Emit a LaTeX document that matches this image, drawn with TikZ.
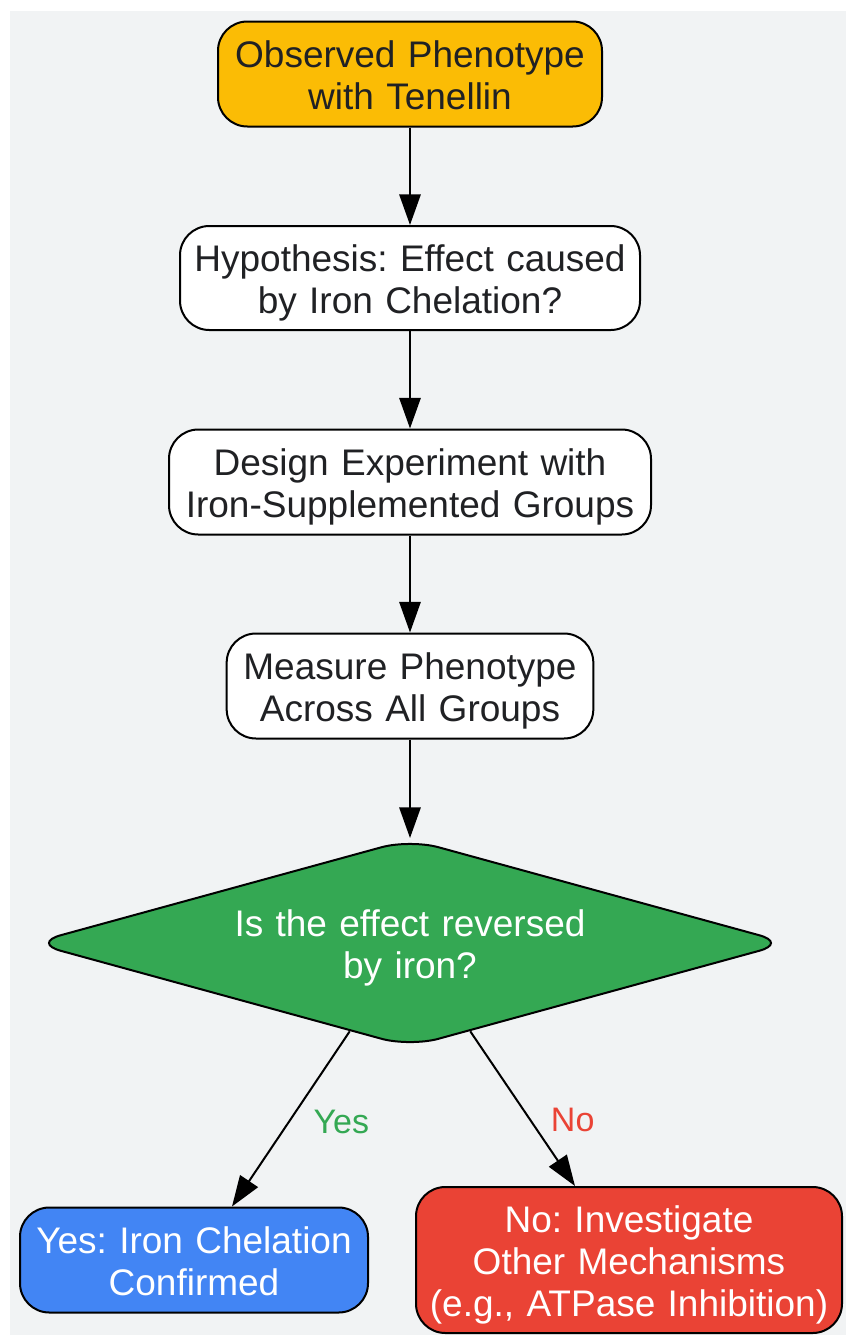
\documentclass[tikz,border=0pt]{standalone}
\usepackage{fontspec}
\setmainfont{Liberation Sans}
\usetikzlibrary{shapes.geometric,arrows.meta,calc}
\definecolor{bgGray}{RGB}{241,243,244}
\definecolor{txtDark}{RGB}{32,33,36}
\definecolor{obsOrange}{RGB}{251,188,5}
\definecolor{decGreen}{RGB}{52,168,83}
\definecolor{yesBlue}{RGB}{66,133,244}
\definecolor{noRed}{RGB}{234,67,53}
\begin{document}
\begin{tikzpicture}[x=0.75pt,y=0.75pt,yscale=-1,xscale=1,
  box/.style={draw=black,line width=1.5pt,rounded corners=22pt,align=center,inner sep=0pt,text=txtDark,font=\fontsize{27.75}{31.3}\selectfont\frenchspacing,
    execute at begin node={\rule{0pt}{27.5pt}},execute at end node={\rule[-5.7pt]{0pt}{5.7pt}}},
  arr/.style={line width=1.5pt,-{Triangle[length=23pt,width=16pt]}},
  lbl/.style={inner sep=0pt,anchor=west,font=\fontsize{25.5}{30}\selectfont}]
\useasboundingbox (0,0) rectangle (846,1335);
%Background
\fill [bgGray] (10,11) rectangle (846,1335);

% Boxes
\node [box,fill=obsOrange,text width=270pt,minimum width=288pt,minimum height=78.75pt] (obs) at (410,74) {Observed Phenotype\\with Tenellin};
\node [box,fill=white,text width=340pt,minimum width=345pt,minimum height=78pt] (hyp) at (410,278) {Hypothesis: Effect caused\\by Iron Chelation?};
\node [box,fill=white,text width=350pt,minimum width=361.5pt,minimum height=78.75pt] (design) at (410,482) {Design Experiment with\\Iron-Supplemented Groups};
\node [box,fill=white,text width=265pt,minimum width=275pt,minimum height=78.75pt] (measure) at (410,686) {Measure Phenotype\\Across All Groups};
% Decision
\node [box,shape=diamond,aspect=3.63,fill=decGreen,text=white,text width=300pt,minimum width=567pt,minimum height=156pt] (dec) at (410,943) {Is the effect reversed\\by iron?};
% Outcomes
\node [box,fill=yesBlue,text=white,text width=255pt,minimum width=261pt,minimum height=78.75pt] (yes) at (194,1260) {Yes: Iron Chelation\\Confirmed};
\node [box,fill=noRed,text=white,text width=310pt,minimum width=319.5pt,minimum height=109.5pt] (no) at (629,1260) {No: Investigate\\Other Mechanisms\\(e.g., ATPase Inhibition)};

% Arrows
\draw [arr] (obs) -- (hyp);
\draw [arr] (hyp) -- (design);
\draw [arr] (design) -- (measure);
\draw [arr] (measure) -- (dec);
\draw [arr] ($(dec.south)!0.159!(dec.west)$) -- ($(yes.north)+(38,0)$) node [lbl,pos=0.52,xshift=18pt,text=decGreen] {Yes};
\draw [arr] ($(dec.south)!0.159!(dec.east)$) -- ($(no.north)+(-54,0)$) node [lbl,pos=0.57,xshift=15pt,text=noRed] {No};

\end{tikzpicture}
\end{document}
